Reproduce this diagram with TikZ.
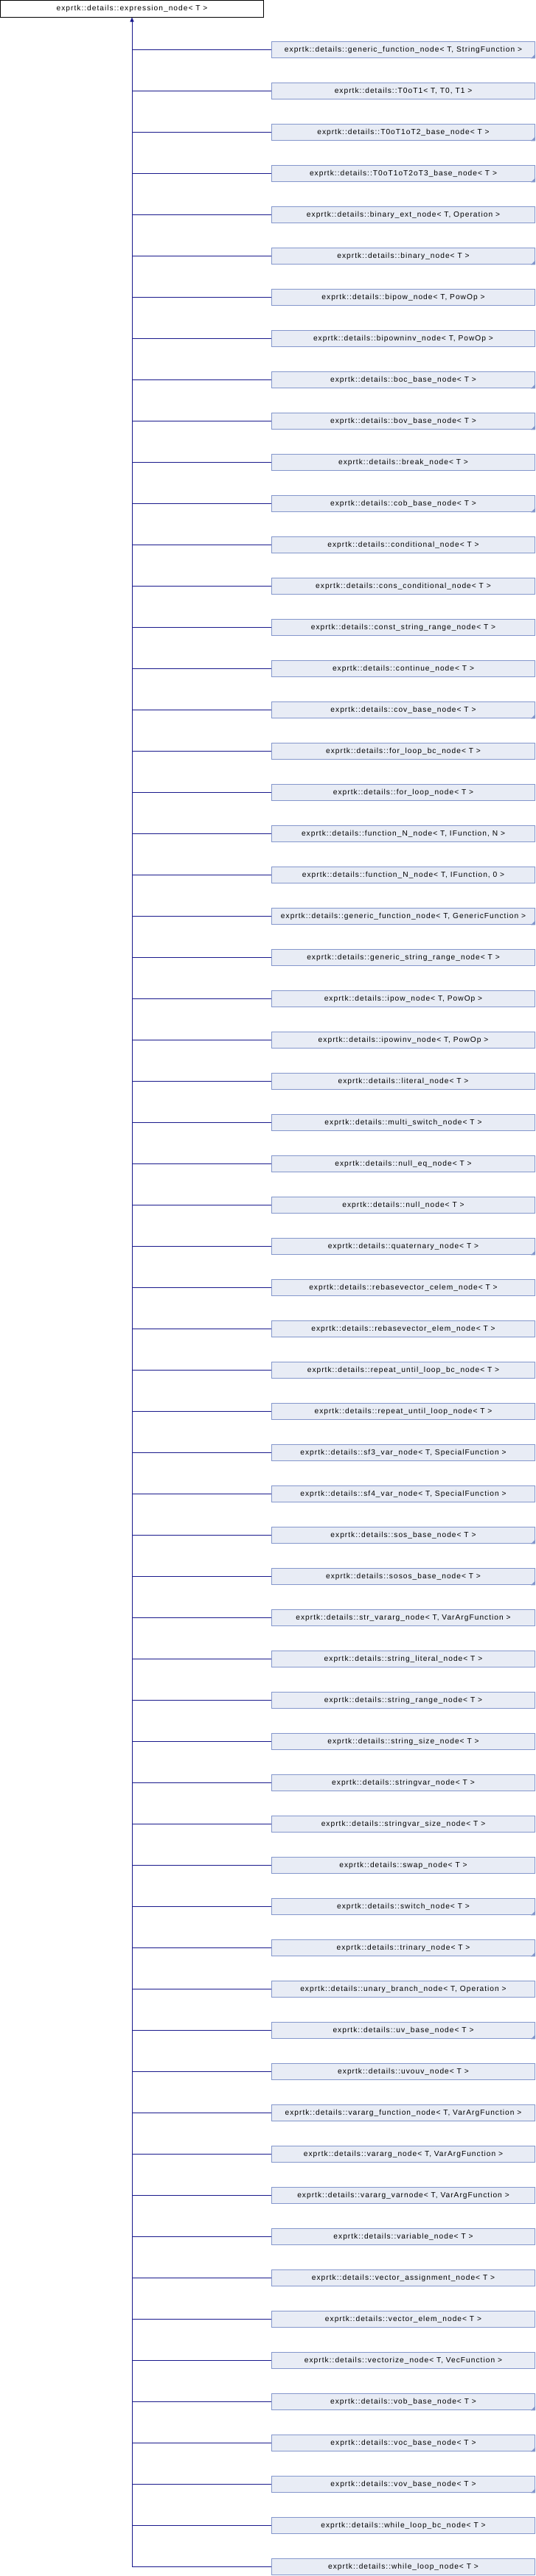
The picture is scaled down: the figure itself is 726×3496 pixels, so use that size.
\documentclass[tikz,border=0pt]{standalone}
\usepackage{fontspec}
\usetikzlibrary{arrows.meta}
\newfontfamily\dfont[LetterSpace=10]{Liberation Sans}
\definecolor{edgec}{RGB}{25,25,140}
\definecolor{boxline}{RGB}{132,151,204}
\definecolor{boxfill}{RGB}{232,236,245}
\tikzset{
  basebox/.style={draw=black, fill=white, line width=1pt, minimum width=357pt, minimum height=22.5pt, inner sep=0pt, font=\dfont\fontsize{10.2}{12}\selectfont},
  childbox/.style={draw=boxline, fill=boxfill, line width=1pt, minimum width=357pt, minimum height=22.5pt, inner sep=0pt, font=\dfont\fontsize{10.2}{12}\selectfont},
  edge/.style={draw=edgec, line width=1pt},
  cornermark/.style={fill=boxline}
}
\begin{document}
\begin{tikzpicture}[x=1pt,y=-1pt]
\useasboundingbox (0,0) rectangle (726,3496);
\node[basebox] (base) at (179,11.75) {exprtk::details::expression\_node< T >};
\foreach \t/\m [count=\i from 0] in {
 {generic\_function\_node< T, StringFunction >}/1,
 {T0oT1< T, T0, T1 >}/0,
 {T0oT1oT2\_base\_node< T >}/1,
 {T0oT1oT2oT3\_base\_node< T >}/1,
 {binary\_ext\_node< T, Operation >}/0,
 {binary\_node< T >}/1,
 {bipow\_node< T, PowOp >}/0,
 {bipowninv\_node< T, PowOp >}/0,
 {boc\_base\_node< T >}/1,
 {bov\_base\_node< T >}/1,
 {break\_node< T >}/0,
 {cob\_base\_node< T >}/1,
 {conditional\_node< T >}/0,
 {cons\_conditional\_node< T >}/0,
 {const\_string\_range\_node< T >}/0,
 {continue\_node< T >}/0,
 {cov\_base\_node< T >}/1,
 {for\_loop\_bc\_node< T >}/0,
 {for\_loop\_node< T >}/0,
 {function\_N\_node< T, IFunction, N >}/0,
 {function\_N\_node< T, IFunction, 0 >}/0,
 {generic\_function\_node< T, GenericFunction >}/1,
 {generic\_string\_range\_node< T >}/0,
 {ipow\_node< T, PowOp >}/0,
 {ipowinv\_node< T, PowOp >}/0,
 {literal\_node< T >}/0,
 {multi\_switch\_node< T >}/0,
 {null\_eq\_node< T >}/0,
 {null\_node< T >}/0,
 {quaternary\_node< T >}/1,
 {rebasevector\_celem\_node< T >}/0,
 {rebasevector\_elem\_node< T >}/0,
 {repeat\_until\_loop\_bc\_node< T >}/0,
 {repeat\_until\_loop\_node< T >}/0,
 {sf3\_var\_node< T, SpecialFunction >}/0,
 {sf4\_var\_node< T, SpecialFunction >}/0,
 {sos\_base\_node< T >}/1,
 {sosos\_base\_node< T >}/1,
 {str\_vararg\_node< T, VarArgFunction >}/0,
 {string\_literal\_node< T >}/0,
 {string\_range\_node< T >}/0,
 {string\_size\_node< T >}/0,
 {stringvar\_node< T >}/0,
 {stringvar\_size\_node< T >}/0,
 {swap\_node< T >}/0,
 {switch\_node< T >}/1,
 {trinary\_node< T >}/1,
 {unary\_branch\_node< T, Operation >}/0,
 {uv\_base\_node< T >}/1,
 {uvouv\_node< T >}/0,
 {vararg\_function\_node< T, VarArgFunction >}/0,
 {vararg\_node< T, VarArgFunction >}/0,
 {vararg\_varnode< T, VarArgFunction >}/0,
 {variable\_node< T >}/0,
 {vector\_assignment\_node< T >}/0,
 {vector\_elem\_node< T >}/0,
 {vectorize\_node< T, VecFunction >}/0,
 {vob\_base\_node< T >}/1,
 {voc\_base\_node< T >}/1,
 {vov\_base\_node< T >}/1,
 {while\_loop\_bc\_node< T >}/0,
 {while\_loop\_node< T >}/0}
{
  \node[childbox] (c\i) at (547,67.5+56*\i) {exprtk::details::\t};
  \ifnum\m=1
    \fill[cornermark] (c\i.south east) -- ++(-6,0) -- ++(6,-6) -- cycle;
  \fi
  \draw[edge] (c\i.west -| base.south) -- (c\i.west);
}
\draw[edge, -{Triangle[length=6pt,width=5pt]}] (c61.west -| base.south) -- (base.south);
\end{tikzpicture}
\end{document}
